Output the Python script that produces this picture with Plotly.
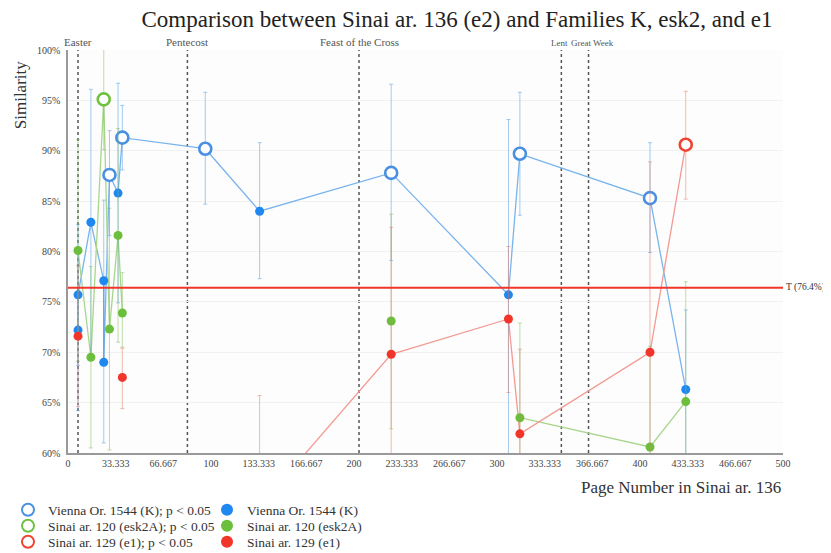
import plotly.graph_objects as go

# ---------------- data ----------------
# Vienna Or. 1544 (K)
k_pages = [7, 7, 16, 25, 25, 29, 35, 38, 96, 134, 226, 308, 316, 407, 432]
k_sim = [72.2, 75.7, 82.9, 77.1, 69.0, 87.6, 85.8, 91.3, 90.2, 84.0, 87.8, 75.7, 89.7, 85.3, 66.3]
k_sig = [0, 0, 0, 0, 0, 1, 0, 1, 1, 0, 1, 0, 1, 1, 0]
k_err_plus = [8, 7, 13.2, 8, 8, 4.4, 10.9, 3.2, 5.6, 6.8, 8.8, 17.4, 6.1, 5.5, 7.9]
k_err_minus = [8, 7, 13.2, 8, 8, 6, 10.9, 3.2, 5.5, 6.7, 8.7, 17.4, 6.1, 5.4, 7.9]

# Sinai ar. 120 (esk2A)
g_pages = [7, 16, 25, 29, 35, 38, 96, 134, 226, 308, 316, 407, 432]
g_sim = [80.1, 69.5, 95.1, 72.3, 81.6, 73.9, None, None, 73.1, None, 63.5, 60.6, 65.1]
g_sig = [0, 0, 1, 0, 0, 0, 0, 0, 0, 0, 0, 0, 0]
g_err_plus = [11, 9, 6, 12, 10.6, 4, 0, 0, 10.6, 0, 9.4, 10, 11.9]
g_err_minus = [11, 9, 5, 12, 10.6, 3.4, 0, 0, 10.7, 0, 9.4, 10, 11.9]

# Sinai ar. 129 (e1)
r_pages = [7, 16, 38, 96, 134, 226, 308, 316, 407, 432]
r_sim = [71.6, None, 67.5, None, 54.7, 69.8, 73.3, 61.9, 70.0, 90.6]
r_sig = [0, 0, 0, 0, 0, 0, 0, 0, 0, 1]
r_err_plus = [7, 0, 2.9, 0, 11, 12.6, 7.2, 8.4, 18.9, 5.3]
r_err_minus = [7, 0, 3.1, 0, 11, 12, 7.3, 8.4, 18.9, 5.4]

threshold = 76.4
events = ["Easter", "Pentecost", "Feast of the Cross", "Lent", "Great Week"]
event_pages = [7, 83.5, 203.5, 345, 364]

x_ticks = [0, 33.333, 66.667, 100, 133.333, 166.667, 200, 233.333, 266.667,
           300, 333.333, 366.667, 400, 433.333, 466.667, 500]
x_ticktext = ["0", "33.333", "66.667", "100", "133.333", "166.667", "200", "233.333",
              "266.667", "300", "333.333", "366.667", "400", "433.333", "466.667", "500"]
y_ticks = [60, 65, 70, 75, 80, 85, 90, 95, 100]

FONT = "Liberation Serif"

series = [
    ("Vienna Or. 1544 (K)", k_pages, k_sim, k_sig, k_err_plus, k_err_minus,
     "#1e88f0", "#4a90e2", "#7ab4ec", "rgba(90,160,230,0.55)"),
    ("Sinai ar. 120 (esk2A)", g_pages, g_sim, g_sig, g_err_plus, g_err_minus,
     "#6cbf3c", "#72c040", "#a8d68c", "rgba(130,190,90,0.5)"),
    ("Sinai ar. 129 (e1)", r_pages, r_sim, r_sig, r_err_plus, r_err_minus,
     "#f2352a", "#ee4433", "#f29a92", "rgba(225,120,100,0.5)"),
]

fig = go.Figure()

# connecting lines
for name, px, py, sig, ep, em, fill, ring, lcol, ecol in series:
    fig.add_trace(go.Scatter(x=px, y=py, mode="lines", showlegend=False,
                             line=dict(color=lcol, width=1.3), connectgaps=False,
                             hoverinfo="skip"))

# markers: one legend row per manuscript (open ring = p < 0.05, filled = other)
legend_ids = ["legend", "legend2", "legend3"]
for (name, px, py, sig, ep, em, fill, ring, lcol, ecol), leg in zip(series, legend_ids):
    for flag in (1, 0):
        xs, ys, eps, ems = [], [], [], []
        for xv, yv, s, a, b in zip(px, py, sig, ep, em):
            if yv is not None and s == flag:
                xs.append(xv); ys.append(yv); eps.append(a); ems.append(b)
        if flag == 1:
            marker = dict(symbol="circle", size=12, color="white",
                          line=dict(color=ring, width=2.6))
            label = name + "; p < 0.05"
        else:
            marker = dict(symbol="circle", size=9, color=fill, line=dict(width=0))
            label = name
        fig.add_trace(go.Scatter(
            x=xs, y=ys, mode="markers", name=label, marker=marker, legend=leg,
            error_y=dict(type="data", symmetric=False, array=eps, arrayminus=ems,
                         color=ecol, thickness=1, width=2),
        ))

# threshold line
fig.add_shape(type="line", xref="paper", x0=0, x1=1, yref="y", y0=threshold, y1=threshold,
              line=dict(color="#f2352a", width=2))
fig.add_annotation(xref="paper", x=1.0, xshift=1, yref="y", y=threshold, text="T (76.4%)",
                   showarrow=False, xanchor="left", font=dict(family=FONT, size=9.5, color="#333"))

# event lines
for ev, pg in zip(events, event_pages):
    fig.add_shape(type="line", xref="x", x0=pg, x1=pg, yref="paper", y0=0, y1=1,
                  line=dict(color="#555", width=1.5, dash="dot"), layer="below")
    small = ev in ("Lent", "Great Week")
    shift = {"Lent": -2, "Great Week": 4}.get(ev, 0)
    fig.add_annotation(xref="x", x=pg, yref="paper", y=1.0, yanchor="bottom",
                       text=ev, showarrow=False, xshift=shift,
                       font=dict(family=FONT, size=9 if small else 11, color="#555"))

# axis titles
fig.add_annotation(xref="paper", x=1.0, yref="paper", y=-0.0857, xanchor="right", yanchor="middle",
                   text="Page Number in Sinai ar. 136", showarrow=False,
                   font=dict(family=FONT, size=17, color="#333"))
fig.add_annotation(xref="paper", x=-0.067, yref="paper", y=0.888, textangle=-90,
                   xanchor="center", yanchor="middle",
                   text="Similarity", showarrow=False,
                   font=dict(family=FONT, size=17, color="#333"))

W, H = 823, 545
row_y = [502, 518, 534]  # legend row centres (figure pixels)
legend_common = dict(yanchor="middle", orientation="h", xanchor="left",
                     font=dict(family=FONT, size=13.5, color="#333"), itemsizing="constant",
                     entrywidth=154, entrywidthmode="pixels",
                     bgcolor="rgba(0,0,0,0)", xref="container", yref="container")

fig.update_layout(
    width=W, height=H,
    margin=dict(l=60, r=48, t=42, b=100, autoexpand=False),
    paper_bgcolor="white", plot_bgcolor="#fdfdfd",
    title=dict(text="Comparison between Sinai ar. 136 (e2) and Families K, esk2, and e1",
               x=449 / W, xanchor="center", y=1 - 11 / H, yanchor="middle",
               font=dict(family=FONT, size=23, color="#222")),
    font=dict(family=FONT, color="#444"),
    xaxis=dict(range=[0, 500], tickvals=x_ticks, ticktext=x_ticktext, showgrid=False,
               zeroline=False, showline=True, linecolor="#999", linewidth=1.5,
               ticks="", tickfont=dict(family=FONT, size=10, color="#444")),
    yaxis=dict(range=[60, 100], tickvals=y_ticks, ticktext=[f"{v}%" for v in y_ticks],
               showgrid=True, gridcolor="#f1f1f1", zeroline=False, showline=True,
               linecolor="#999", linewidth=1.5, ticks="", ticklabelstandoff=4,
               tickfont=dict(family=FONT, size=10, color="#444")),
    legend=dict(x=0, y=1 - row_y[0] / H, **legend_common),
    legend2=dict(x=0, y=1 - row_y[1] / H, **legend_common),
    legend3=dict(x=0, y=1 - row_y[2] / H, **legend_common),
    showlegend=True,
)

fig.write_html("out.html")
